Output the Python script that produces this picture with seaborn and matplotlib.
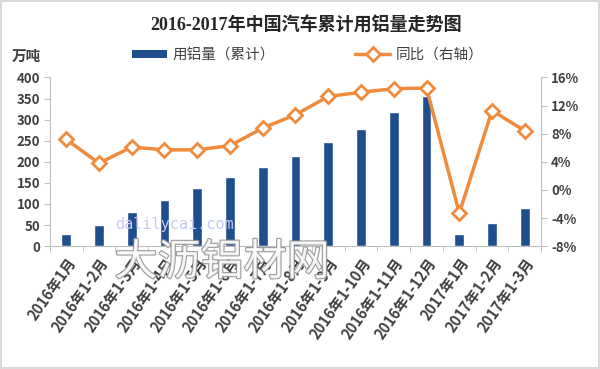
import matplotlib
matplotlib.use('Agg')
import matplotlib.pyplot as plt
import matplotlib.patheffects as pe
import seaborn as sns
import pandas as pd
import numpy as np
from matplotlib.patches import Patch
from matplotlib.lines import Line2D
from matplotlib.ticker import FuncFormatter, FixedLocator

# data
periods = ['2016年1月', '2016年1-2月', '2016年1-3月', '2016年1-4月', '2016年1-5月',
           '2016年1-6月', '2016年1-7月', '2016年1-8月', '2016年1-9月', '2016年1-10月',
           '2016年1-11月', '2016年1-12月', '2017年1月', '2017年1-2月', '2017年1-3月']
usage = [29, 50, 81, 109, 137, 163, 188, 213, 246, 279, 318, 356, 28, 56, 91]  # 万吨
yoy = [7.2, 3.8, 6.1, 5.7, 5.7, 6.3, 8.8, 10.7, 13.3, 13.9, 14.4, 14.5, -3.3, 11.3, 8.4]  # %

BLUE = '#1f4e8f'
ORANGE = '#f08a3c'
GREY = '#bfbfbf'
TXT = '#404040'

sns.set_style('white')
plt.rcParams['font.family'] = ['Noto Sans CJK SC', 'DejaVu Sans']

df = pd.DataFrame({'period': periods, 'usage': usage, 'yoy': yoy})

fig = plt.figure(figsize=(6, 3.69), dpi=100, edgecolor='#d9d9d9', linewidth=1.5)
ax = fig.add_axes([0.083, 0.333, 0.819, 0.457])

sns.barplot(data=df, x='period', y='usage', color=BLUE, saturation=1, width=0.3, ax=ax)

ax2 = ax.twinx()
sns.pointplot(data=df, x='period', y='yoy', color=ORANGE, markers='D', errorbar=None,
              ax=ax2)
for ln in ax2.lines:
    ln.set_linewidth(2.5)
    ln.set_markersize(7)
    ln.set_markerfacecolor('white')
    ln.set_markeredgecolor(ORANGE)
    ln.set_markeredgewidth(2)

# left axis
ax.set_ylim(0, 400)
ax.set_yticks(range(0, 401, 50))
ax.set_xlim(-0.5, len(periods) - 0.5)
ax.set_xlabel('')
ax.set_ylabel('')
for s in ['top', 'right']:
    ax.spines[s].set_visible(False)
ax.spines['left'].set_color(GREY)
ax.spines['bottom'].set_color(GREY)
ax.tick_params(axis='y', left=True, direction='out', length=4, color=GREY,
               labelsize=9.5, labelcolor=TXT, pad=3)
ax.tick_params(axis='x', which='major', bottom=False, labelsize=10.5, labelcolor=TXT, pad=3)
ax.xaxis.set_minor_locator(FixedLocator(np.arange(-0.5, len(periods), 1)))
ax.tick_params(axis='x', which='minor', bottom=True, direction='out', length=4, color=GREY)
for lbl in ax.get_xticklabels():
    lbl.set_rotation(55)
    lbl.set_ha('right')
    lbl.set_rotation_mode('anchor')
    lbl.set_fontweight('bold')
for lbl in ax.get_yticklabels():
    lbl.set_fontweight('bold')

# right axis
ax2.set_ylim(-8, 16)
ax2.set_yticks(range(-8, 17, 4))
ax2.yaxis.set_major_formatter(FuncFormatter(lambda v, p: f'{v:.0f}%'))
ax2.set_ylabel('')
for s in ['top', 'left', 'bottom']:
    ax2.spines[s].set_visible(False)
ax2.spines['right'].set_color(GREY)
ax2.tick_params(axis='y', right=True, direction='out', length=4, color=GREY,
                labelsize=9.5, labelcolor=TXT, pad=3)
for lbl in ax2.get_yticklabels():
    lbl.set_fontweight('bold')

# title, unit, legend
fig.text(0.51, 1 - 26 / 369, '2016-2017年中国汽车累计用铝量走势图', ha='center', va='center',
         fontsize=13, fontweight='bold', color='#262626',
         family=['Liberation Serif', 'Noto Sans CJK SC'])
fig.text(0.02, 1 - 56 / 369, '万吨', ha='left', va='center', fontsize=10.5, color=TXT,
         fontweight='bold')

handles = [Patch(facecolor=BLUE, edgecolor='none'),
           Line2D([], [], color=ORANGE, lw=2.5, marker='D', markersize=7,
                  markerfacecolor='white', markeredgewidth=2)]
fig.legend(handles, ['用铝量（累计）', '同比（右轴）'], loc='center', ncol=2,
           bbox_to_anchor=(0.513, 1 - 55 / 369), frameon=False, fontsize=10.5,
           handlelength=2.4, handleheight=0.45, columnspacing=5.5, handletextpad=0.4,
           labelcolor=TXT)

# watermarks
fig.text(0.29, 1 - 224 / 369, 'dalilycai.com', ha='center', va='center', fontsize=11,
         color='#c5caf0', family='DejaVu Sans Mono')
fig.text(0.37, 1 - 263 / 369, '大沥铝材网', ha='center', va='center', fontsize=31,
         color='white', alpha=0.85,
         path_effects=[pe.withStroke(linewidth=1.6, foreground='#8c8c8c')])

fig.savefig('out.png', dpi=100, edgecolor=fig.get_edgecolor())
